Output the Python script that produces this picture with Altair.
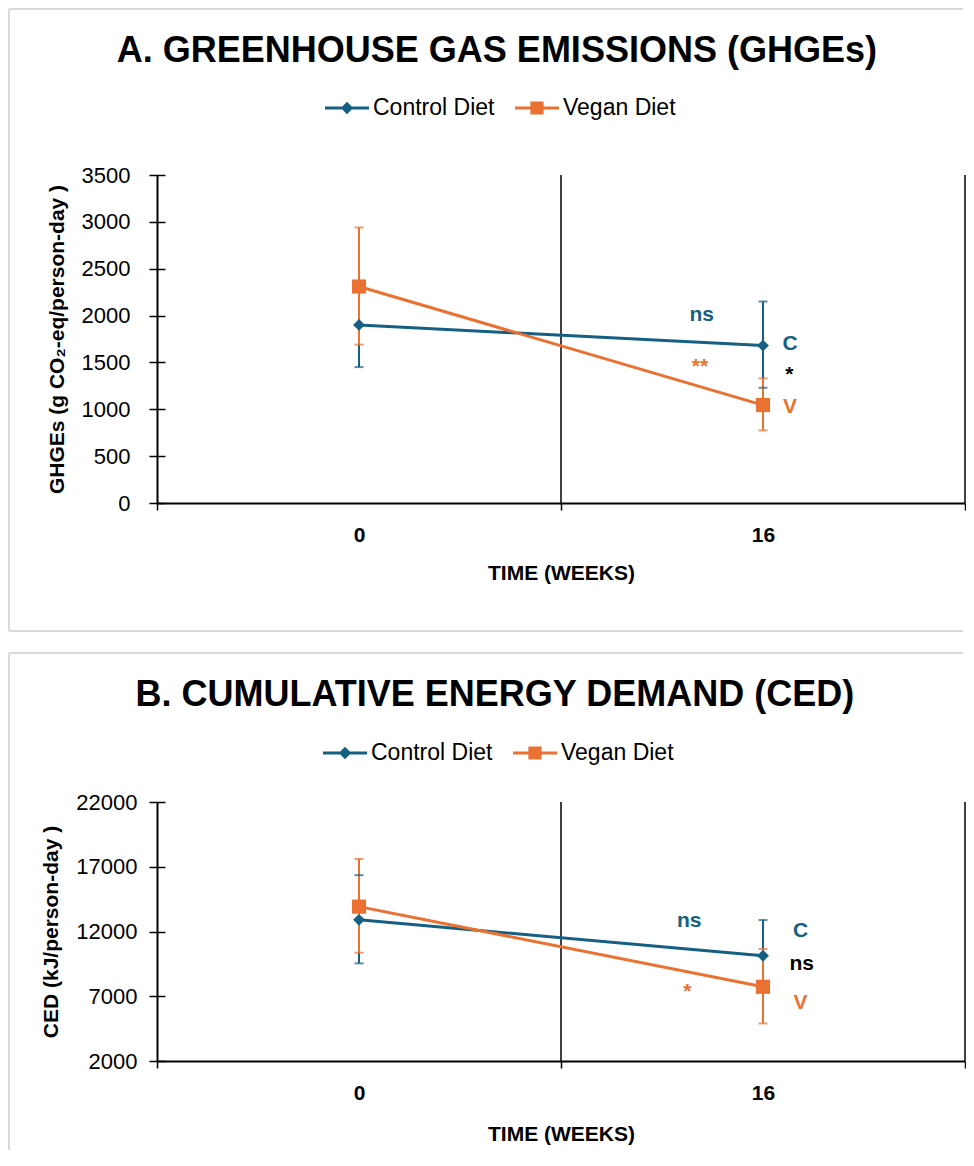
import altair as alt
import pandas as pd

BLUE = "#156082"
ORANGE = "#E97132"
FONT = "Liberation Sans"

series = ["Control Diet", "Vegan Diet"]
weeks = [0, 16]
boundaries = [8, 24]

# Panel A: greenhouse gas emissions (g CO2-eq/person-day)
ghge_control = [1900, 1680]
ghge_control_lo = [1450, 1230]
ghge_control_hi = [2350, 2150]
ghge_vegan = [2310, 1045]
ghge_vegan_lo = [1690, 775]
ghge_vegan_hi = [2940, 1330]
ghge_ticks = [0, 500, 1000, 1500, 2000, 2500, 3000, 3500]

ghge_ann_text = ["ns", "**", "C", "V"]
ghge_ann_group = ["Control Diet", "Vegan Diet", "Control Diet", "Vegan Diet"]
ghge_ann_x = [13.57, 13.5, 17.07, 17.07]
ghge_ann_y = [2006, 1450, 1693, 1028]
ghge_cmp_text = ["*"]
ghge_cmp_x = [17.04]
ghge_cmp_y = [1362]

# Panel B: cumulative energy demand (kJ/person-day)
ced_control = [12900, 10130]
ced_control_lo = [9540, 7370]
ced_control_hi = [16350, 12890]
ced_vegan = [13920, 7730]
ced_vegan_lo = [10360, 4900]
ced_vegan_hi = [17600, 10650]
ced_ticks = [2000, 7000, 12000, 17000, 22000]

ced_ann_text = ["ns", "*", "C", "V"]
ced_ann_group = ["Control Diet", "Vegan Diet", "Control Diet", "Vegan Diet"]
ced_ann_x = [13.08, 13.0, 17.49, 17.49]
ced_ann_y = [12834, 7320, 12062, 6456]
ced_cmp_text = ["ns"]
ced_cmp_x = [17.53]
ced_cmp_y = [9490]

# legend symbols: line segment with marker
PATH_CONTROL = "M-1,-0.07H1V0.07H-1Z M0,-0.28L0.28,0L0,0.28L-0.28,0Z"
PATH_VEGAN = "M-1,-0.07H1V0.07H-1Z M-0.3,-0.3H0.3V0.3H-0.3Z"


def panel(title, ytitle, ydomain, yticks, ctrl, ctrl_lo, ctrl_hi, veg, veg_lo, veg_hi,
          ann_text, ann_group, ann_x, ann_y, cmp_text, cmp_x, cmp_y,
          width, height, frame_left, frame_top, frame_bottom, frame_right,
          legend_x, legend_y, label_pad, ytitle_x, title_offset, title_dx, xtitle_pad,
          draw_bottom):
    df = pd.DataFrame({
        "week": weeks + weeks,
        "diet": [series[0]] * 2 + [series[1]] * 2,
        "value": ctrl + veg,
        "lo": ctrl_lo + veg_lo,
        "hi": ctrl_hi + veg_hi,
    })
    xs = alt.Scale(domain=[-8, 24], nice=False, zero=False)
    ys = alt.Scale(domain=ydomain, nice=False, zero=False)
    color = alt.Color("diet:N", scale=alt.Scale(domain=series, range=[BLUE, ORANGE]), legend=None)

    x_axis = alt.Axis(
        orient="bottom",
        values=[-8, 0, 8, 16, 24],
        labelExpr="datum.value == 0 || datum.value == 16 ? datum.label : ''",
        tickOpacity={"condition": {"test": "datum.value == 0 || datum.value == 16", "value": 0}, "value": 1},
        grid=False, tickSize=7, tickColor="black", tickWidth=1.5,
        domainColor="black", domainWidth=2,
        labelFont=FONT, labelFontSize=21, labelFontWeight="bold", labelColor="black",
        labelPadding=14, labelFlush=False,
        title="TIME (WEEKS)", titleFont=FONT, titleFontSize=21, titleFontWeight="bold",
        titleColor="black", titlePadding=xtitle_pad,
    )
    y_axis = alt.Axis(
        orient="left", values=yticks, format="d", grid=False,
        tickSize=8, tickColor="black", tickWidth=1.5,
        domainColor="black", domainWidth=2,
        labelFont=FONT, labelFontSize=22, labelColor="black", labelPadding=label_pad,
        title=ytitle, titleFont=FONT, titleFontSize=21, titleFontWeight="bold",
        titleColor="black", titleX=ytitle_x,
    )
    y_inner = alt.Axis(
        orient="left", values=yticks, grid=False, offset=-8, tickSize=8,
        tickColor="black", tickWidth=1.5, domain=False, labels=False, title=None,
    )

    base = alt.Chart(df)
    X = alt.X("week:Q", scale=xs, axis=None)

    leg = alt.Legend(
        orient="none", legendX=legend_x, legendY=legend_y, direction="horizontal",
        title=None, labelFont=FONT, labelFontSize=23, labelColor="black",
        symbolSize=1936, symbolStrokeWidth=0, symbolOpacity=1, labelOffset=4,
        columnPadding=20, padding=0, labelLimit=300,
    )
    legend_layer = base.transform_filter("false").mark_point(
        filled=True, opacity=1, strokeWidth=0).encode(
        color=alt.Color("diet:N", scale=alt.Scale(domain=series, range=[BLUE, ORANGE]), legend=leg),
        shape=alt.Shape("diet:N", scale=alt.Scale(domain=series, range=[PATH_CONTROL, PATH_VEGAN]), legend=leg),
    )

    bounds_df = pd.DataFrame({"b": boundaries})
    dividers = alt.Chart(bounds_df).mark_rule(color="black", strokeWidth=1.5).encode(
        x=alt.X("b:Q", scale=xs, axis=x_axis))

    err = base.mark_rule(strokeWidth=2).encode(
        x=X, y=alt.Y("lo:Q", scale=ys, axis=y_inner), y2="hi:Q", color=color)
    cap_lo = base.mark_tick(orient="horizontal", size=9, thickness=2).encode(
        x=X, y=alt.Y("lo:Q", scale=ys, axis=None), color=color)
    cap_hi = base.mark_tick(orient="horizontal", size=9, thickness=2).encode(
        x=X, y=alt.Y("hi:Q", scale=ys, axis=None), color=color)
    lines = base.mark_line(strokeWidth=3).encode(
        x=X, y=alt.Y("value:Q", scale=ys, axis=y_axis), color=color, detail="diet:N")
    pts_c = base.transform_filter(alt.datum.diet == series[0]).mark_point(
        shape="diamond", filled=True, size=140, opacity=1).encode(
        x=X, y=alt.Y("value:Q", scale=ys, axis=None), color=color)
    pts_v = base.transform_filter(alt.datum.diet == series[1]).mark_point(
        shape="square", filled=True, size=200, opacity=1).encode(
        x=X, y=alt.Y("value:Q", scale=ys, axis=None), color=color)

    ann_df = pd.DataFrame({"t": ann_text, "diet": ann_group, "x": ann_x, "y": ann_y})
    ann = alt.Chart(ann_df).mark_text(
        font=FONT, fontSize=21, fontWeight="bold", align="center", baseline="middle").encode(
        x=alt.X("x:Q", scale=xs, axis=None), y=alt.Y("y:Q", scale=ys, axis=None),
        text="t:N", color=color)
    cmp_df = pd.DataFrame({"t": cmp_text, "x": cmp_x, "y": cmp_y})
    cmp = alt.Chart(cmp_df).mark_text(
        font=FONT, fontSize=21, fontWeight="bold", align="center", baseline="middle",
        color="black").encode(
        x=alt.X("x:Q", scale=xs, axis=None), y=alt.Y("y:Q", scale=ys, axis=None), text="t:N")

    one = pd.DataFrame({"k": [0]})
    fr = alt.Chart(one)
    frame_style = dict(color="#d9d9d9", strokeWidth=2)
    frames = [
        fr.mark_rule(**frame_style).encode(x=alt.value(frame_left), y=alt.value(frame_top), y2=alt.value(frame_bottom)),
        fr.mark_rule(**frame_style).encode(x=alt.value(frame_left), x2=alt.value(frame_right), y=alt.value(frame_top)),
    ]
    if draw_bottom:
        frames.append(fr.mark_rule(**frame_style).encode(
            x=alt.value(frame_left), x2=alt.value(frame_right), y=alt.value(frame_bottom)))

    layers = frames + [legend_layer, dividers, err, cap_lo, cap_hi, lines, pts_c, pts_v, ann, cmp]
    return alt.layer(*layers).resolve_axis(x="independent", y="independent").properties(
        width=width, height=height,
        title=alt.TitleParams(title, font=FONT, fontSize=36, fontWeight="bold", color="black",
                              anchor="middle", frame="bounds", offset=title_offset, dx=title_dx),
    )


panel_a = panel(
    "A. GREENHOUSE GAS EMISSIONS (GHGEs)", "GHGEs (g CO\u2082-eq/person-day )",
    [0, 3500], ghge_ticks,
    ghge_control, ghge_control_lo, ghge_control_hi, ghge_vegan, ghge_vegan_lo, ghge_vegan_hi,
    ghge_ann_text, ghge_ann_group, ghge_ann_x, ghge_ann_y, ghge_cmp_text, ghge_cmp_x, ghge_cmp_y,
    width=808, height=328, frame_left=-148, frame_top=-166, frame_bottom=456, frame_right=806,
    legend_x=168, legend_y=-89, label_pad=19, ytitle_x=-90, title_offset=-62, title_dx=10,
    xtitle_pad=17, draw_bottom=True,
)
panel_b = panel(
    "B. CUMULATIVE ENERGY DEMAND (CED)", "CED (kJ/person-day )",
    [2000, 22000], ced_ticks,
    ced_control, ced_control_lo, ced_control_hi, ced_vegan, ced_vegan_lo, ced_vegan_hi,
    ced_ann_text, ced_ann_group, ced_ann_x, ced_ann_y, ced_cmp_text, ced_cmp_x, ced_cmp_y,
    width=808, height=259, frame_left=-148, frame_top=-149, frame_bottom=348, frame_right=806,
    legend_x=166, legend_y=-71, label_pad=12, ytitle_x=-96, title_offset=-62, title_dx=8,
    xtitle_pad=20, draw_bottom=False,
)

chart = alt.vconcat(panel_a, panel_b, spacing=20).resolve_scale(
    color="independent", shape="independent"
).properties(
    padding=0, background="white"
).configure_view(stroke=None)

chart.save("out.html", embed_options={"renderer": "svg", "actions": False})
